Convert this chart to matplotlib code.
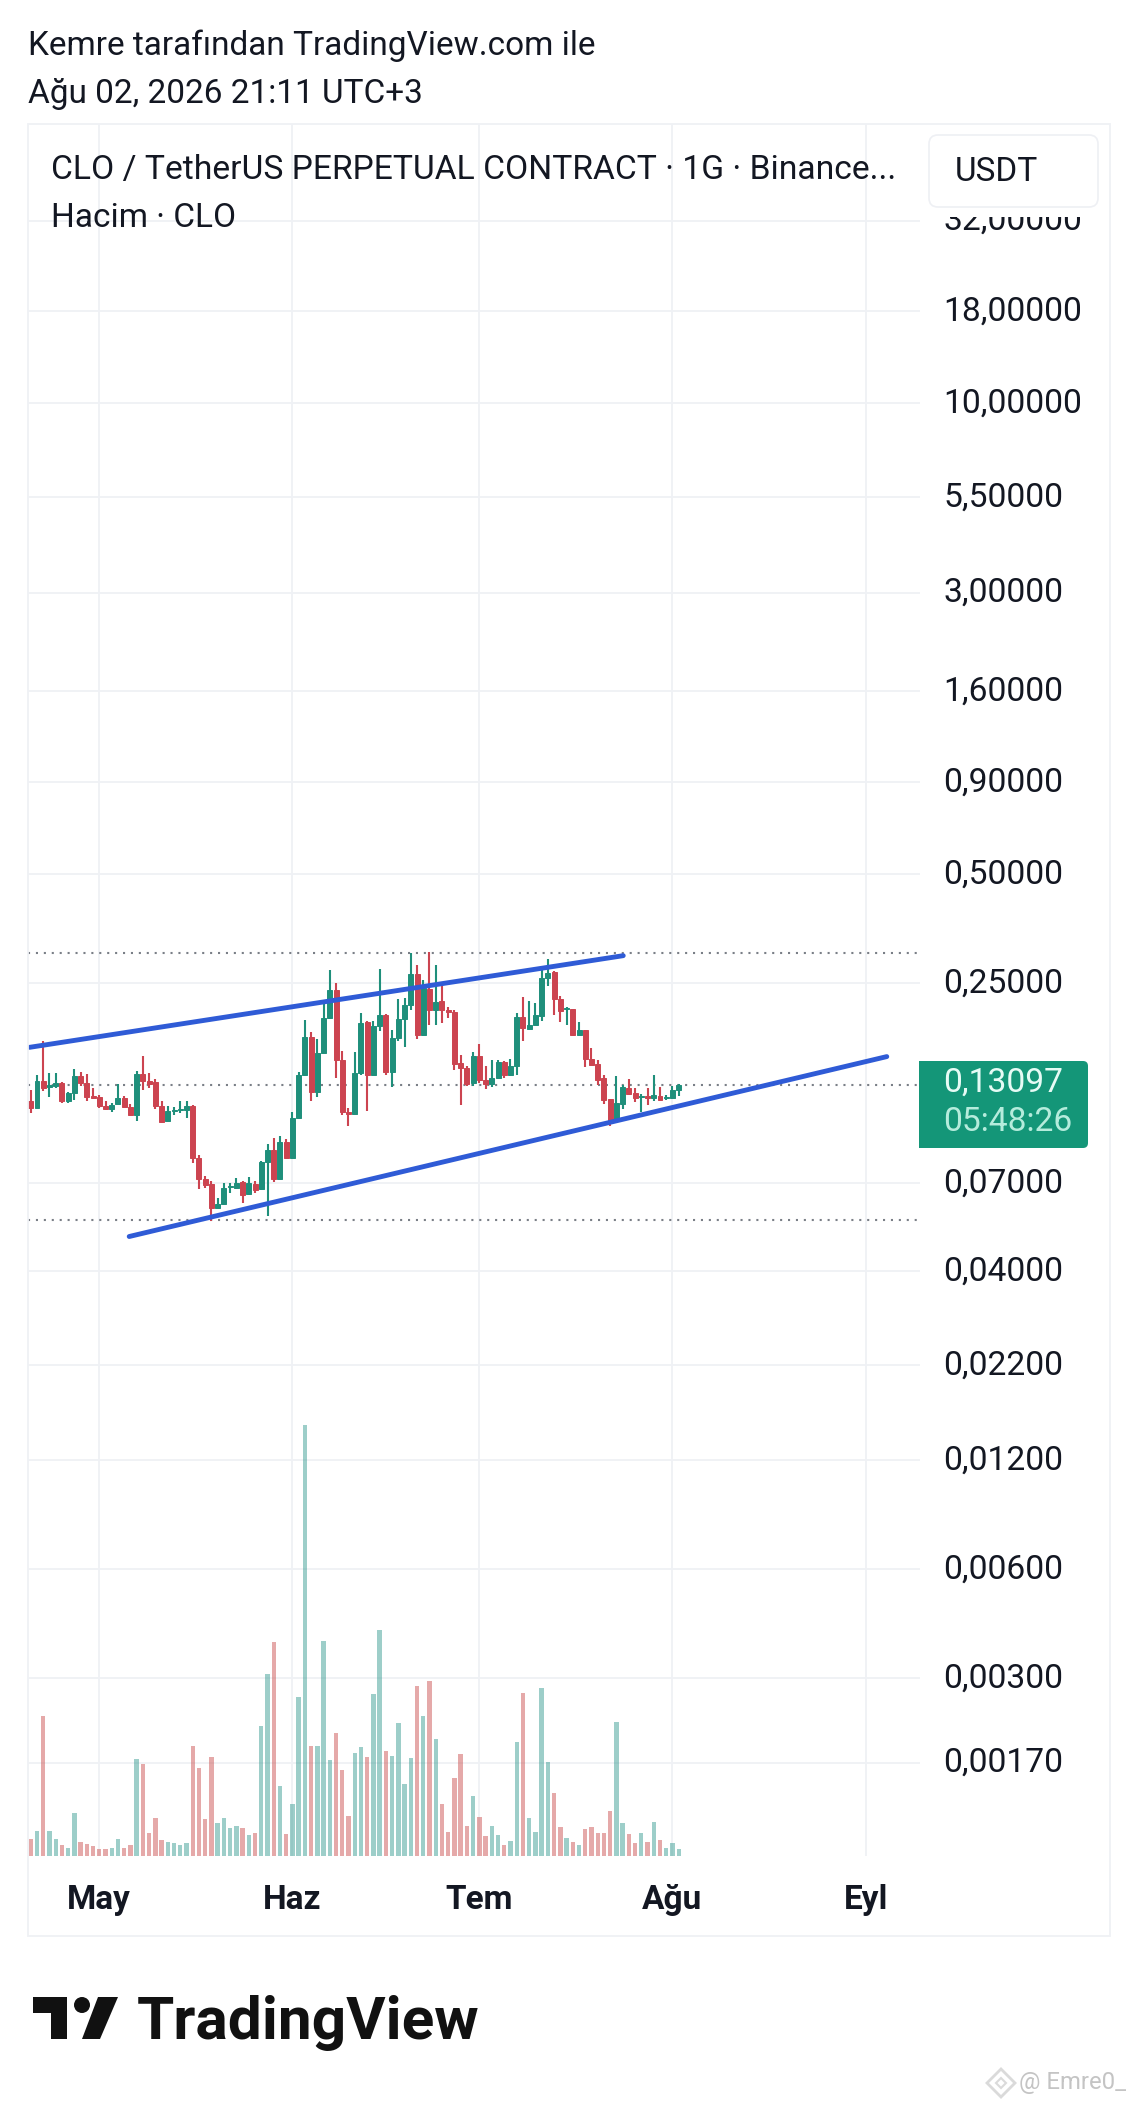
import matplotlib
matplotlib.use("Agg")
import matplotlib.pyplot as plt
from matplotlib.patches import Rectangle, FancyBboxPatch, Polygon, Circle
from matplotlib.transforms import ScaledTranslation

plt.rcParams['font.family'] = ['Roboto', 'DejaVu Sans']

# daily candles, day 0 = 1 May
first_day = -11
opens = [.1177, .1129, .1337, .1288, .1296, .1323, .1177, .1242, .1387, .1323, .1216, .1211, .1146, .1122, .1158,
         .1203, .1136, .1082, .1404, .1344, .1329, .1146, .1039, .1105, .1112, .1117, .1146, .0822, .0719, .0697,
         .0597, .0613, .0682, .0678, .0703, .0654, .0697, .0674, .0799, .0862, .0719, .0908, .0822, .1057, .1396,
         .1773, .1247, .1602, .2001, .2396, .1535, .1099, .1087, .1410, .1946, .1396, .1898, .2044, .1416, .1762,
         .1988, .2169, .2648, .1792, .2406, .2101, .2224, .2110, .2084, .1503, .1455, .1323, .1575, .1346, .1318,
         .1366, .1509, .1390, .1471, .2013, .1870, .1918, .2031, .2574, .2678, .2258, .2119, .2119, .1792, .1850,
         .1541, .1494, .1364, .1195, .1037, .1160, .1282, .1242, .1208, .1216, .1203, .1221, .1203, .1203, .1264]
highs = [.1269, .1395, .1724, .1410, .1410, .1329, .1250, .1446, .1416, .1404, .1282, .1229, .1177, .1165, .1318,
         .1216, .1160, .1425, .1575, .1410, .1358, .1177, .1141, .1136, .1177, .1177, .1153, .0839, .0734, .0708,
         .0636, .0700, .0700, .0723, .0708, .0728, .0708, .0804, .0900, .0933, .0943, .0927, .1103, .1419, .1980,
         .1830, .1755, .2249, .2722, .2500, .1626, .1129, .1612, .2066, .1959, .1959, .2733, .2053, .1858, .2263,
         .2272, .3026, .2811, .2554, .3045, .2811, .2463, .2146, .2101, .1585, .1471, .1609, .1696, .1471, .1535,
         .1535, .1519, .1542, .2066, .2287, .2224, .2201, .2751, .2913, .2693, .2297, .2146, .2123, .1950, .1850,
         .1653, .1535, .1395, .1198, .1387, .1309, .1361, .1282, .1237, .1282, .1395, .1291, .1229, .1296, .1318]
lows = [.1094, .1129, .1255, .1211, .1282, .1165, .1165, .1190, .1296, .1177, .1198, .1129, .1117, .1099, .1158,
        .1134, .1071, .1037, .1269, .1282, .1122, .1026, .1037, .1076, .1094, .1057, .0796, .0674, .0678, .0549,
        .0597, .0610, .0657, .0674, .0617, .0647, .0657, .0671, .0567, .0703, .0719, .0818, .0822, .1057, .1381,
        .1177, .1211, .1602, .1988, .1366, .1082, .1005, .1087, .1396, .1105, .1390, .1839, .1396, .1288, .1725,
        .1664, .2110, .1751, .1781, .1918, .1918, .1938, .2001, .1440, .1148, .1296, .1296, .1323, .1274, .1291,
        .1358, .1366, .1381, .1390, .1725, .1866, .1918, .1959, .2448, .2035, .1946, .1918, .1781, .1792, .1462,
        .1480, .1309, .1160, .1005, .1026, .1124, .1229, .1172, .1099, .1153, .1182, .1182, .1185, .1198, .1221]
closes = [.1129, .1337, .1282, .1304, .1323, .1177, .1242, .1381, .1323, .1211, .1206, .1146, .1122, .1153, .1203,
          .1136, .1080, .1404, .1337, .1318, .1141, .1035, .1105, .1112, .1124, .1146, .0822, .0719, .0693, .0597,
          .0613, .0678, .0689, .0700, .0650, .0700, .0671, .0801, .0866, .0719, .0910, .0822, .1059, .1393, .1773,
          .1250, .1602, .2001, .2396, .1535, .1099, .1089, .1410, .1938, .1390, .1898, .2044, .1416, .1762, .1988,
          .2178, .2648, .1792, .2422, .2101, .2215, .2101, .2075, .1497, .1455, .1315, .1575, .1346, .1318, .1366,
          .1509, .1395, .1471, .2013, .1878, .1918, .2044, .2581, .2665, .2258, .2088, .2132, .1792, .1850, .1545,
          .1487, .1352, .1190, .1030, .1165, .1291, .1237, .1203, .1219, .1206, .1224, .1190, .1211, .1264, .13097]
volumes = [5.2, 7.5, 42.0, 7.5, 5.1, 3.3, 2.4, 12.8, 4.2, 3.6, 3.0, 2.1, 2.1, 2.4, 5.0,
           2.4, 3.3, 29.0, 27.5, 6.9, 11.5, 4.8, 4.2, 3.9, 3.3, 3.8, 33.0, 26.4, 11.1, 29.7,
           9.9, 11.5, 8.4, 9.0, 8.4, 6.4, 6.9, 39.0, 54.7, 64.3, 21.0, 6.7, 15.6, 47.7, 129.3,
           33.0, 33.0, 64.5, 28.8, 36.9, 25.8, 12.0, 30.9, 32.7, 29.7, 48.7, 67.8, 31.5, 30.0, 39.9,
           21.7, 29.4, 50.9, 42.0, 52.5, 35.1, 15.7, 7.3, 23.5, 30.6, 9.0, 18.0, 11.7, 6.0, 9.0,
           6.3, 3.3, 4.5, 34.2, 48.9, 11.4, 7.2, 50.3, 28.2, 18.9, 8.7, 5.4, 4.2, 3.3, 8.1,
           8.7, 6.9, 6.9, 13.5, 40.2, 9.9, 6.6, 3.9, 6.9, 4.2, 10.2, 4.8, 2.4, 3.9, 2.1]

# the last gridline sits a little above 0.0017, its label is rounded
price_ticks = [32, 18, 10, 5.5, 3, 1.6, 0.9, 0.5, 0.25, 0.07, 0.04, 0.022, 0.012, 0.006, 0.003, 0.00175]
price_labels = ['32,00000', '18,00000', '10,00000', '5,50000', '3,00000', '1,60000', '0,90000', '0,50000',
                '0,25000', '0,07000', '0,04000', '0,02200', '0,01200', '0,00600', '0,00300', '0,00170']
month_days = [0, 31, 61, 92, 123]
month_labels = ['May', 'Haz', 'Tem', 'Ağu', 'Eyl']

# drawings on the chart: (day, price) pairs and the dotted levels
upper_line = ([-11.2, 84.1], [.1660, .2975])
lower_line = ([4.8, 126.4], [.0498, .1565])
dotted_levels = [.3026, .13097, .0553]

W, H = 1136, 2104
GREEN = '#1f8f7b'
RED = '#cc4450'
GRID = '#eff1f5'
DARK = '#131722'

fig = plt.figure(figsize=(W / 100, H / 100), dpi=100, facecolor='white')

# main price panel, log scale: 361.8 px per decade, 0.25 sits at y=983
left, right, top, bottom = 28, 920, 124, 1856
ax = fig.add_axes([left / W, 1 - bottom / H, (right - left) / W, (bottom - top) / H])
ax.patch.set_visible(False)
ax.set_yscale('log')
ax.set_ylim(0.25 * 10 ** (-(bottom - 983) / 361.8), 0.25 * 10 ** ((983 - top) / 361.8))
ax.set_xlim(-(99.3 - left) / 6.23, (right - 99.3) / 6.23)

for sp in ax.spines.values():
    sp.set_visible(False)
ax.set_yticks(price_ticks)
ax.set_yticklabels(price_labels, fontsize=24.2, color=DARK)
ax.minorticks_off()
ax.set_xticks(month_days)
ax.set_xticklabels(month_labels, fontsize=24, fontweight='semibold', color=DARK)
ax.tick_params(axis='both', length=0)
ax.tick_params(axis='x', pad=20)
ax.grid(True, color=GRID, linewidth=1.3, zorder=0)
ax.set_axisbelow(True)

for level in dotted_levels:
    ax.axhline(level, color='#7a7f87', linewidth=1.5, linestyle=(0, (1, 2.8)), zorder=1)

days = [first_day + i for i in range(len(opens))]
colors = [GREEN if c >= o else RED for o, c in zip(opens, closes)]
ax.vlines(days, lows, highs, colors=colors, linewidth=1.5, zorder=2)
body_low = [min(o, c) for o, c in zip(opens, closes)]
body_size = [abs(o - c) for o, c in zip(opens, closes)]
ax.bar(days, body_size, bottom=body_low, width=0.8, color=colors, edgecolor=colors, linewidth=0.7, zorder=3)

ax.plot(*upper_line, color='#2f5bd6', linewidth=3.5, solid_capstyle='round', zorder=4)
ax.plot(*lower_line, color='#2f5bd6', linewidth=3.5, solid_capstyle='round', zorder=4)

# volume panel shares the same box
vol = ax.twinx()
vol.set_ylim(0, 519.6)
vol.set_yticks([])
for sp in vol.spines.values():
    sp.set_visible(False)
vol_colors = ['#3c9e95' if c >= o else '#cc5555' for o, c in zip(opens, closes)]
vol.bar(days, volumes, width=0.7, color=vol_colors, alpha=0.5, linewidth=0)

# twinx sends the price labels to the left, put them back
ax.yaxis.tick_right()
ax.tick_params(axis='y', length=0, pad=17)
# labels sit a few px above their gridlines
for label in ax.get_yticklabels():
    label.set_transform(label.get_transform() + ScaledTranslation(0, 0.03, fig.dpi_scale_trans))

# everything around the chart, in pixel coordinates
ov = fig.add_axes([0, 0, 1, 1], zorder=5)
ov.set_xlim(0, W)
ov.set_ylim(H, 0)
ov.axis('off')

ov.add_patch(Rectangle((28, 124), 1082, 1812, fill=False, edgecolor=GRID, linewidth=1.3))
ov.text(28, 46, 'Kemre tarafından TradingView.com ile', fontsize=24, color=DARK, va='center')
ov.text(28, 94, 'Ağu 02, 2026 21:11 UTC+3', fontsize=24, color=DARK, va='center')
ov.text(51, 170, 'CLO / TetherUS PERPETUAL CONTRACT · 1G · Binance...', fontsize=24.2, color=DARK, va='center')
ov.text(51, 218, 'Hacim · CLO', fontsize=24, color=DARK, va='center')

# backing of the currency button hides the top half of the first price label
ov.add_patch(Rectangle((925, 126), 183, 91, facecolor='white', edgecolor='none'))
ov.add_patch(FancyBboxPatch((929, 135), 169, 72, boxstyle='round,pad=0,rounding_size=9',
                            facecolor='white', edgecolor='#eef0f4', linewidth=1.2))
ov.text(955, 172, 'USDT', fontsize=24, color=DARK, va='center')

ov.add_patch(FancyBboxPatch((919, 1061), 169, 87, boxstyle='round,pad=0,rounding_size=5',
                            facecolor='#149678', edgecolor='none'))
ov.add_patch(Rectangle((919, 1061), 12, 87, facecolor='#149678', edgecolor='none'))
ov.text(943, 1083, '0,13097', fontsize=24.2, color='#e6fbf5', va='center')
ov.text(943, 1122, '05:48:26', fontsize=24.2, color='#b5ecdc', va='center')

# logo
ov.add_patch(Polygon([(33, 1997), (67, 1997), (67, 2039), (51, 2039), (51, 2013), (33, 2013)], color='#111111', lw=0))
ov.add_patch(Circle((82, 2005), 8, color='#111111', lw=0))
ov.add_patch(Polygon([(98, 1997), (118, 1997), (100, 2039), (82, 2039)], color='#111111', lw=0))
ov.text(137, 2039, 'TradingView', fontsize=43.5, fontweight='bold', color='#111111', va='baseline')

# watermark
ov.text(1019, 2083, '@ Emre0_', fontsize=17.2, color='#c4c4c4', va='center')
ov.add_patch(Polygon([(1001, 2069), (1015, 2083), (1001, 2097), (987, 2083)], fill=False, edgecolor='#dadada', lw=2))
ov.add_patch(Polygon([(1001, 2078), (1006, 2083), (1001, 2088), (996, 2083)], fill=False, edgecolor='#dadada', lw=1.5))

plt.savefig('out.png', dpi=100)
